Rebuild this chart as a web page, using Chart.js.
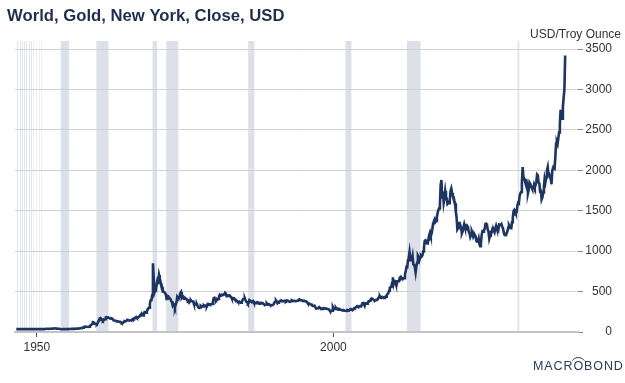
<!DOCTYPE html>
<html><head><meta charset="utf-8">
<script src="https://cdn.jsdelivr.net/npm/chart.js@4/dist/chart.umd.min.js"></script>
<style>html,body{margin:0;padding:0;background:#fff}</style>
</head><body>
<canvas id="c" width="625" height="383"></canvas>
<script>
const titleText = 'World, Gold, New York, Close, USD';
const unitText = 'USD/Troy Ounce';
const logoText = 'MACROBOND';

// Monthly closes, one block per period (first month = January of start year)
const start1965 = 1965;
const gold1965_1969 = [
  35.1,35.2,35.2,35.1,35.1,35.1,35.1,35.1,35.1,35.2,35.2,35.1,
  35.1,35.2,35.2,35.2,35.2,35.2,35.2,35.2,35.2,35.2,35.2,35.2,
  35.2,35.2,35.2,35.2,35.2,35.2,35.2,35.2,35.2,35.2,35.3,35.5,
  35.1,35.2,38.0,38.0,41.0,41.1,39.0,39.0,39.8,39.8,40.0,41.1,
  42.5,42.6,43.5,43.3,43.5,41.5,41.7,41.0,40.4,40.5,37.4,35.2
];
const start1970 = 1970;
const gold1970s = [
  34.9,35.0,35.3,35.6,35.9,35.4,35.3,35.4,36.2,37.5,37.4,37.4,
  37.9,38.7,38.9,39.0,40.5,40.1,41.0,42.7,42.0,42.5,42.9,43.5,
  45.8,48.3,48.4,49.0,54.6,62.1,65.7,67.0,65.5,64.9,62.9,63.9,
  65.1,74.2,84.4,90.5,102,122,120,106,103,100,94.8,106,
  129,150,168,172,163,154,143,154,151,158,181,183,
  176,180,178,170,167,164,166,161,144,143,142,139,
  131,131,132,128,126,126,118,110,114,117,130,134,
  132,136,148,149,147,141,143,145,150,158,162,160,
  173,179,185,175,177,183,188,206,212,227,207,204,
  227,245,242,239,257,279,294,301,355,392,392,455
];
const start1980 = 1980;
const gold1980s = [
  850,665,490,517,514,600,644,627,705,661,623,595,
  557,500,498,495,480,461,409,411,443,437,413,410,
  384,374,330,350,334,305,339,365,436,422,415,445,
  481,495,420,432,438,413,423,416,412,394,382,388,
  370,386,394,381,377,378,348,348,341,340,341,320,
  303,297,304,324,316,317,317,330,323,326,325,322,
  345,339,346,340,342,343,348,376,418,423,398,391,
  408,401,409,438,460,450,450,461,460,465,467,486,
  477,443,443,452,451,452,437,433,413,406,420,419,
  404,388,390,384,371,367,375,365,362,367,394,409
];
const start1990 = 1990;
const gold1990s = [
  410,417,393,374,369,352,362,395,389,380,381,378,
  383,363,363,358,357,366,368,356,349,358,360,361,
  354,354,345,338,337,341,353,340,345,344,335,334,
  329,330,330,342,367,372,392,379,355,364,374,383,
  387,382,384,378,381,385,385,380,391,389,384,379,
  378,376,382,391,385,387,386,383,383,383,386,387,
  400,405,396,393,392,385,383,387,383,381,378,369,
  355,347,352,344,344,341,324,324,323,325,306,289,
  289,297,296,308,299,292,293,284,289,296,294,291,
  287,288,286,282,277,262,256,257,265,311,293,283
];
const start2000 = 2000;
const gold2000s = [
  284,300,286,280,275,286,282,274,273,270,266,272,
  265,262,263,261,272,270,268,273,283,283,276,276,
  282,295,294,302,314,321,313,310,319,317,319,333,
  357,359,340,328,355,356,351,360,379,379,389,407,
  414,405,406,404,384,392,398,400,406,420,439,442,
  424,423,434,429,422,431,424,438,456,470,476,510,
  549,555,557,610,676,596,633,632,598,585,627,629,
  631,665,655,679,667,655,665,665,712,754,806,803,
  889,922,990,909,888,890,939,839,829,806,740,816,
  858,943,924,890,928,946,934,949,996,1043,1127,1135
];
const start2010 = 2010;
const gold2010s = [
  1118,1095,1114,1149,1205,1232,1193,1215,1271,1343,1370,1391,
  1360,1374,1424,1473,1510,1529,1573,1820,1880,1666,1739,1600,
  1656,1743,1674,1650,1585,1596,1594,1630,1744,1775,1722,1685,
  1671,1627,1593,1485,1414,1270,1286,1347,1349,1316,1275,1221,
  1244,1300,1336,1299,1288,1279,1311,1296,1239,1222,1176,1200,
  1250,1227,1179,1198,1199,1181,1128,1117,1125,1157,1086,1060,
  1097,1199,1246,1242,1260,1276,1337,1341,1326,1267,1238,1157,
  1192,1234,1231,1267,1246,1260,1237,1283,1314,1280,1283,1265,
  1331,1331,1325,1335,1303,1282,1238,1202,1199,1215,1221,1250,
  1291,1320,1300,1286,1284,1359,1414,1497,1510,1495,1471,1480
];
const start2020 = 2020;
const gold2020s = [
  1560,1597,1591,1683,1715,1732,1847,2040,1921,1900,1866,1858,
  1867,1808,1718,1760,1850,1834,1807,1785,1775,1777,1821,1790,
  1817,1856,1948,1937,1849,1836,1732,1765,1640,1664,1726,1798,
  1898,1855,1912,2000,2040,1943,1950,1919,1916,1830,1993,2030,
  2033,2023,2158,2331,2352,2326,2398,2470,2570,2750,2650,2640,
  2790,2895,3000,3420
];

// US recessions (decimal years)
const recessionStarts = [1969.92, 1973.83, 1980.0, 1981.5, 1990.5, 2001.17, 2007.92, 2020.08];
const recessionEnds   = [1970.83, 1975.17, 1980.5, 1982.83, 1991.17, 2001.83, 2009.42, 2020.25];
// compressed early-period markers at the left edge
const stripeStarts = [1965.15, 1965.4, 1965.65, 1965.9, 1966.15, 1966.4, 1966.65, 1966.9, 1967.2, 1967.5, 1967.8];
const stripeShade  = ['#e3e5ec','#e3e5ec','#e3e5ec','#e3e5ec','#e3e5ec','#e3e5ec','#e3e5ec','#eef0f4','#eef0f4','#eef0f4','#eef0f4'];

const xTickValues = [1967.3, 1999.85];
const xTickLabels = ['1950', '2000'];
const yTickValues = [0, 500, 1000, 1500, 2000, 2500, 3000, 3500];

function toPoints(startYear, arr) {
  return arr.map((v, i) => ({ x: startYear + (i + 0.5) / 12, y: v }));
}
const points = [].concat(
  toPoints(start1965, gold1965_1969),
  toPoints(start1970, gold1970s),
  toPoints(start1980, gold1980s),
  toPoints(start1990, gold1990s),
  toPoints(start2000, gold2000s),
  toPoints(start2010, gold2010s),
  toPoints(start2020, gold2020s)
);

const FONT = "'Liberation Sans', Arial, sans-serif";

const bandsPlugin = {
  id: 'bands',
  beforeDraw(chart) {
    const { ctx, chartArea, scales } = chart;
    const xs = scales.x;
    ctx.save();
    ctx.beginPath();
    ctx.rect(chartArea.left, chartArea.top, chartArea.right - chartArea.left, chartArea.bottom - chartArea.top);
    ctx.clip();
    stripeStarts.forEach((s, i) => {
      const x1 = Math.round(xs.getPixelForValue(s));
      ctx.fillStyle = stripeShade[i];
      ctx.fillRect(x1, chartArea.top, 1, chartArea.bottom - chartArea.top);
    });
    ctx.fillStyle = '#dde0e8';
    recessionStarts.forEach((s, i) => {
      const x1 = xs.getPixelForValue(s);
      const x2 = xs.getPixelForValue(recessionEnds[i]);
      ctx.fillRect(x1, chartArea.top, Math.max(x2 - x1, 1.5), chartArea.bottom - chartArea.top);
    });
    ctx.restore();
  }
};

const textPlugin = {
  id: 'texts',
  afterDraw(chart) {
    const { ctx } = chart;
    ctx.save();
    ctx.fillStyle = '#1f2e4e';
    ctx.font = 'bold 16.7px ' + FONT;
    ctx.textAlign = 'left';
    ctx.textBaseline = 'alphabetic';
    ctx.fillText(titleText, 7, 20.5);

    ctx.fillStyle = '#333333';
    ctx.font = '12px ' + FONT;
    ctx.textAlign = 'right';
    ctx.fillText(unitText, 621, 38);

    // logo
    ctx.fillStyle = '#2b3a5c';
    ctx.font = '12.5px ' + FONT;
    ctx.textAlign = 'left';
    const lx = 533, ly = 369.5;
    let x = lx;
    let oCenter = null;
    for (let i = 0; i < logoText.length; i++) {
      const ch = logoText[i];
      const w = ctx.measureText(ch).width;
      if (i === 4) oCenter = x + w / 2;
      ctx.fillText(ch, x, ly);
      x += w + 0.9;
    }
    ctx.strokeStyle = '#2b3a5c';
    ctx.lineWidth = 1;
    ctx.beginPath();
    ctx.arc(oCenter, ly - 4.5, 7.5, Math.PI * 1.2, Math.PI * 1.8);
    ctx.stroke();
    ctx.restore();
  }
};

new Chart(document.getElementById('c'), {
  type: 'line',
  data: {
    datasets: [{
      data: points,
      borderColor: '#1d3560',
      borderWidth: 2.6,
      pointRadius: 0,
      tension: 0,
      fill: false
    }]
  },
  options: {
    responsive: false,
    animation: false,
    devicePixelRatio: 1,
    layout: { padding: { left: 15, right: 13, top: 41, bottom: 21 } },
    plugins: { legend: { display: false }, title: { display: false }, tooltip: { enabled: false } },
    scales: {
      x: {
        type: 'linear',
        position: 'bottom',
        min: 1964.9,
        max: 2026.7,
        afterBuildTicks(s) { s.ticks = xTickValues.map(v => ({ value: v })); },
        afterFit(s) { s.height = 30; },
        ticks: {
          autoSkip: false, maxRotation: 0, padding: 3,
          color: '#333333', font: { family: FONT, size: 12 },
          callback: (v, i) => xTickLabels[i]
        },
        grid: { drawOnChartArea: false, drawTicks: true, tickLength: 5, tickColor: '#555555', tickWidth: 1 },
        border: { display: true, color: '#c4c4c4', width: 2 }
      },
      y: {
        position: 'right',
        min: 0,
        max: 3600,
        afterBuildTicks(s) { s.ticks = yTickValues.map(v => ({ value: v })); },
        afterFit(s) { s.width = 34; },
        ticks: {
          autoSkip: false, crossAlign: 'far', padding: 3,
          color: '#333333', font: { family: FONT, size: 12 },
          callback: (v) => String(v)
        },
        grid: { color: '#d2d2d2', lineWidth: 1, drawTicks: true, tickLength: 5, tickColor: '#8a8a8a' },
        border: { display: false }
      }
    }
  },
  plugins: [bandsPlugin, textPlugin]
});
</script>
</body></html>
